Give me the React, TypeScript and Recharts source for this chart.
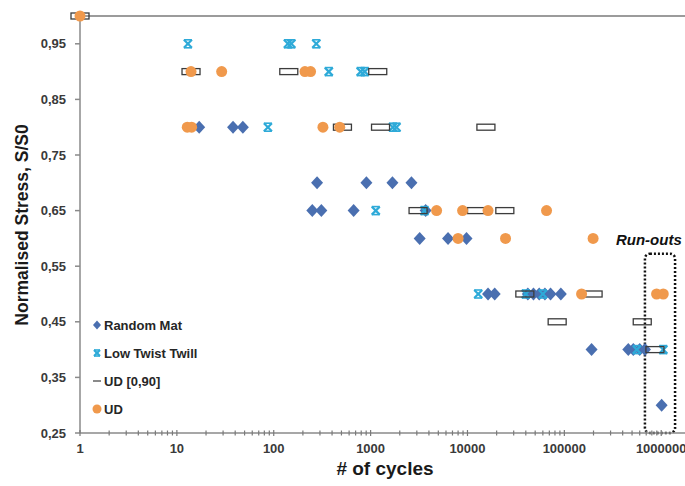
import React from 'react';
import { ScatterChart, Scatter, XAxis, YAxis, ReferenceLine, ReferenceArea } from 'recharts';

const FONT = 'Arial, "Liberation Sans", sans-serif';

// n = number of cycles, s = normalised stress S/S0
const randomMat = [
  { n: 17, s: 0.8 }, { n: 38, s: 0.8 }, { n: 48, s: 0.8 },
  { n: 280, s: 0.7 }, { n: 905, s: 0.7 }, { n: 1680, s: 0.7 }, { n: 2640, s: 0.7 },
  { n: 250, s: 0.65 }, { n: 310, s: 0.65 }, { n: 668, s: 0.65 }, { n: 3700, s: 0.65 },
  { n: 3210, s: 0.6 }, { n: 6300, s: 0.6 }, { n: 9770, s: 0.6 },
  { n: 16300, s: 0.5 }, { n: 19100, s: 0.5 }, { n: 42000, s: 0.5 }, { n: 48000, s: 0.5 },
  { n: 55000, s: 0.5 }, { n: 63000, s: 0.5 }, { n: 72000, s: 0.5 }, { n: 92000, s: 0.5 },
  { n: 191000, s: 0.4 }, { n: 457000, s: 0.4 }, { n: 515000, s: 0.4 }, { n: 600000, s: 0.4 }, { n: 680000, s: 0.4 },
  { n: 1010000, s: 0.3 },
];

const lowTwistTwill = [
  { n: 13, s: 0.95 }, { n: 140, s: 0.95 }, { n: 152, s: 0.95 }, { n: 275, s: 0.95 },
  { n: 370, s: 0.9 }, { n: 790, s: 0.9 }, { n: 870, s: 0.9 },
  { n: 87, s: 0.8 }, { n: 1700, s: 0.8 }, { n: 1850, s: 0.8 },
  { n: 1130, s: 0.65 }, { n: 3600, s: 0.65 },
  { n: 12900, s: 0.5 }, { n: 40000, s: 0.5 }, { n: 60000, s: 0.5 },
  { n: 560000, s: 0.4 }, { n: 1050000, s: 0.4 },
];

const ud090 = [
  { n: 1, s: 1.0 },
  { n: 14, s: 0.9 }, { n: 143, s: 0.9 }, { n: 1185, s: 0.9 },
  { n: 512, s: 0.8 }, { n: 1266, s: 0.8 }, { n: 15500, s: 0.8 },
  { n: 3090, s: 0.65 }, { n: 12400, s: 0.65 }, { n: 24300, s: 0.65 },
  { n: 39100, s: 0.5 }, { n: 198000, s: 0.5 },
  { n: 84300, s: 0.45 }, { n: 637000, s: 0.45 },
  { n: 861000, s: 0.4 },
];

const ud = [
  { n: 1, s: 1.0 },
  { n: 14, s: 0.9 }, { n: 29, s: 0.9 }, { n: 210, s: 0.9 }, { n: 240, s: 0.9 },
  { n: 12.8, s: 0.8 }, { n: 14.2, s: 0.8 }, { n: 322, s: 0.8 }, { n: 480, s: 0.8 },
  { n: 4800, s: 0.65 }, { n: 8900, s: 0.65 }, { n: 16300, s: 0.65 }, { n: 65500, s: 0.65 },
  { n: 8000, s: 0.6 }, { n: 24700, s: 0.6 }, { n: 198000, s: 0.6 },
  { n: 150600, s: 0.5 }, { n: 896000, s: 0.5 }, { n: 1050000, s: 0.5 },
];

const seriesNames = ['Random Mat', 'Low Twist Twill', 'UD [0,90]', 'UD'];
const yTicks = [0.25, 0.35, 0.45, 0.55, 0.65, 0.75, 0.85, 0.95];
const decades = [1, 10, 100, 1000, 10000, 100000, 1000000];
const xMax = 1760000;
const minorTicks = decades.flatMap((d) => [2, 3, 4, 5, 6, 7, 8, 9].map((m) => d * m)).filter((v) => v < xMax);
const xTicks = [...decades, ...minorTicks].sort((a, b) => a - b);

const BLUE = '#4a6fb0';
const CYAN = '#2eaad8';
const ORANGE = '#f0994c';
const RECT = '#3c3c3c';

const Diamond = ({ cx, cy, r = 6 }: any) => (
  <polygon points={`${cx},${cy - r - 0.5} ${cx + r},${cy} ${cx},${cy + r + 0.5} ${cx - r},${cy}`} fill={BLUE} />
);

const TwillMark = ({ cx, cy, r = 4 }: any) => (
  <g stroke={CYAN} strokeWidth={2.2} fill="none">
    <line x1={cx - r} y1={cy - r} x2={cx + r} y2={cy + r} />
    <line x1={cx + r} y1={cy - r} x2={cx - r} y2={cy + r} />
    <line x1={cx - r} y1={cy - r} x2={cx + r} y2={cy - r} strokeWidth={1.6} />
    <line x1={cx - r} y1={cy + r} x2={cx + r} y2={cy + r} strokeWidth={1.6} />
  </g>
);

const RectMark = ({ cx, cy }: any) => (
  <rect x={cx - 9} y={cy - 3} width={18} height={6} fill="none" stroke={RECT} strokeWidth={1.3} />
);

const Circle = ({ cx, cy, r = 5.5 }: any) => <circle cx={cx} cy={cy} r={r} fill={ORANGE} />;

const XTick = ({ x, y, payload }: any) => {
  const v = payload.value;
  const major = decades.includes(v);
  return (
    <g>
      <line x1={x} y1={y - (major ? 3 : 2.5)} x2={x} y2={y + (major ? 3 : 2.5)} stroke="#7a7a7a" strokeWidth={1.2} />
      {major && (
        <text x={x} y={y + 20} textAnchor="middle" fontFamily={FONT} fontWeight="bold" fontSize={13} fill="#3a3a3a">
          {v}
        </text>
      )}
    </g>
  );
};

const LegendBox = () => {
  const icons = [
    <Diamond cx={6} cy={0} r={4} />,
    <TwillMark cx={6} cy={0} r={3} />,
    <line x1={2} y1={0} x2={10} y2={0} stroke="#8a8a8a" strokeWidth={2} />,
    <Circle cx={6} cy={0} r={4.5} />,
  ];
  return (
    <svg width={160} height={120} style={{ position: 'absolute', left: 91, top: 315 }}>
      {seriesNames.map((name, i) => (
        <g key={name} transform={`translate(0, ${10 + i * 28})`}>
          {icons[i]}
          <text x={13} y={5} fontFamily={FONT} fontWeight="bold" fontSize={13} fill="#262626">
            {name}
          </text>
        </g>
      ))}
    </svg>
  );
};

export default function App() {
  return (
    <div style={{ position: 'absolute', left: 0, top: 0, width: 685, height: 486, background: '#fff' }}>
      <ScatterChart width={685} height={486} margin={{ top: 16, right: 0, bottom: 23, left: 0 }}>
        <XAxis
          type="number"
          dataKey="n"
          scale="log"
          domain={[1, xMax]}
          ticks={xTicks}
          interval={0}
          tick={<XTick />}
          tickLine={false}
          tickSize={0}
          tickMargin={0}
          height={30}
          stroke="#8a8a8a"
          strokeWidth={1.5}
          label={{
            content: () => (
              <text x={385} y={475} textAnchor="middle" fontFamily={FONT} fontWeight="bold" fontSize={19} fill="#1a1a1a">
                # of cycles
              </text>
            ),
          }}
        />
        <YAxis
          type="number"
          dataKey="s"
          domain={[0.25, 1]}
          ticks={yTicks}
          interval={0}
          width={80}
          tickSize={5}
          tickMargin={9}
          stroke="#8a8a8a"
          strokeWidth={1.5}
          tickFormatter={(v: number) => v.toFixed(2).replace('.', ',')}
          tick={{ fontFamily: FONT, fontWeight: 'bold', fontSize: 13, fill: '#3a3a3a' }}
          label={{
            content: () => (
              <text
                x={22}
                y={225}
                transform="rotate(-90, 22, 225)"
                textAnchor="middle"
                dominantBaseline="central"
                fontFamily={FONT}
                fontWeight="bold"
                fontSize={17.5}
                fill="#1a1a1a"
              >
                Normalised Stress,  S/S0
              </text>
            ),
          }}
        />
        <ReferenceLine y={1} stroke="#7a7a7a" strokeWidth={1.5} />
        <ReferenceArea
          x1={679000}
          x2={1390000}
          y1={0.25}
          y2={0.5725}
          shape={(p: any) => (
            <g>
              <rect x={p.x} y={p.y} width={p.width} height={p.height} rx={5} fill="none" stroke="#111" strokeWidth={2.5} strokeDasharray="2 2" />
              <text x={p.x - 29} y={p.y - 9} fontFamily={FONT} fontWeight="bold" fontStyle="italic" fontSize={15} fill="#111">
                Run-outs
              </text>
            </g>
          )}
        />
        <Scatter name={seriesNames[0]} data={randomMat} isAnimationActive={false} shape={(p: any) => <Diamond cx={p.cx} cy={p.cy} />} />
        <Scatter name={seriesNames[1]} data={lowTwistTwill} isAnimationActive={false} shape={(p: any) => <TwillMark cx={p.cx} cy={p.cy} />} />
        <Scatter name={seriesNames[2]} data={ud090} isAnimationActive={false} shape={(p: any) => <RectMark cx={p.cx} cy={p.cy} />} />
        <Scatter name={seriesNames[3]} data={ud} isAnimationActive={false} shape={(p: any) => <Circle cx={p.cx} cy={p.cy} />} />
      </ScatterChart>
      <LegendBox />
    </div>
  );
}
